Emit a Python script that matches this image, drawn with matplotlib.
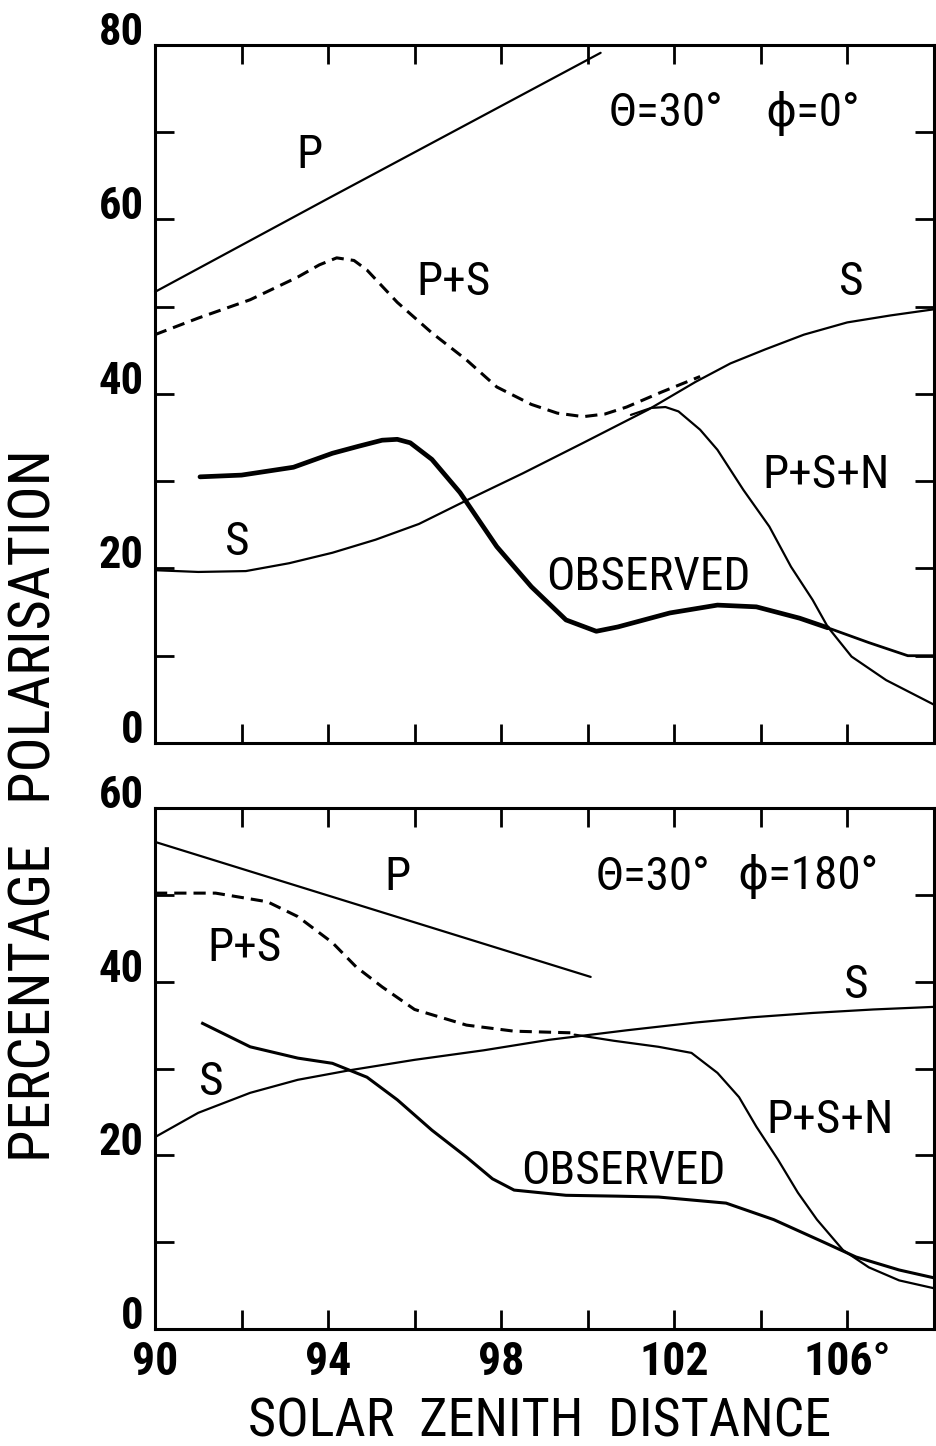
import matplotlib
matplotlib.use('Agg')
import matplotlib.pyplot as plt

# --- Fonts ---
FONT = ['Roboto Condensed', 'Liberation Sans Narrow', 'Roboto', 'DejaVu Sans']
plt.rcParams['font.family'] = FONT

# --- Upper panel: theta=30, phi=0 ---
top_p_x = [90, 94, 100.3]
top_p_y = [51.7, 62.4, 79.1]

top_ps_x = [90, 91.0, 92.2, 93.3, 93.8, 94.2, 94.6, 94.9, 95.6, 96.4, 97.2, 97.9, 98.7, 99.3, 99.9, 100.4, 100.9, 101.7, 102.6]
top_ps_y = [46.8, 48.7, 50.8, 53.4, 54.8, 55.6, 55.3, 54.2, 50.5, 47.0, 43.9, 40.8, 38.8, 37.8, 37.4, 37.7, 38.5, 40.2, 42.0]

top_s_x = [90, 91, 92.1, 93.1, 94.1, 95.1, 96.1, 97.2, 98.5, 99.9, 101.4, 102.5, 103.3, 104.1, 105.0, 106.0, 107.0, 108]
top_s_y = [19.8, 19.6, 19.7, 20.6, 21.8, 23.3, 25.1, 27.8, 30.9, 34.4, 38.2, 41.4, 43.5, 45.1, 46.8, 48.2, 49.0, 49.7]

top_psn_x = [101.0, 101.47, 101.8, 102.1, 102.6, 103.0, 103.6, 104.2, 104.7, 105.2, 105.55, 106.1, 106.9, 108]
top_psn_y = [37.6, 38.4, 38.5, 38.0, 35.9, 33.6, 29.0, 24.8, 20.2, 16.4, 13.3, 9.9, 7.2, 4.4]

top_obs_x = [91.04, 92.0, 93.2, 94.1, 94.7, 95.25, 95.6, 95.9, 96.4, 97.05, 97.9, 98.7, 99.5, 100.2, 100.7, 101.9, 103.0, 103.9, 104.9, 105.55]
top_obs_y = [30.5, 30.7, 31.6, 33.2, 34.0, 34.7, 34.8, 34.4, 32.5, 28.7, 22.5, 17.9, 14.1, 12.8, 13.3, 14.9, 15.8, 15.6, 14.3, 13.2]
top_obs_tail_x = [105.55, 106.5, 107.4, 108]
top_obs_tail_y = [13.2, 11.5, 10.0, 10.0]

# --- Lower panel: theta=30, phi=180 ---
bot_p_x = [90, 100.07]
bot_p_y = [56.1, 40.55]

bot_ps_x = [90, 91.4, 92.6, 93.3, 94.1, 94.65, 95.25, 96.0, 97.2, 98.3, 99.7]
bot_ps_y = [50.2, 50.2, 49.2, 47.5, 44.5, 41.7, 39.4, 36.8, 35.0, 34.3, 34.1]

bot_s_x = [90, 91.0, 92.2, 93.3, 94.5, 96.0, 97.6, 99.1, 100.9, 102.5, 103.8, 105.2, 106.6, 108]
bot_s_y = [22.1, 24.9, 27.2, 28.7, 29.8, 31.0, 32.1, 33.3, 34.4, 35.3, 35.9, 36.4, 36.8, 37.1]

bot_psn_x = [99.7, 100.6, 101.64, 102.4, 103.0, 103.5, 103.9, 104.4, 104.86, 105.3, 105.9, 106.5, 107.2, 108]
bot_psn_y = [33.9, 33.2, 32.5, 31.8, 29.5, 26.7, 23.3, 19.5, 15.7, 12.6, 9.1, 7.1, 5.6, 4.7]

bot_obs_x = [91.1, 92.2, 93.3, 94.1, 94.9, 95.6, 96.4, 97.2, 97.8, 98.3, 99.5, 100.7, 101.64, 103.2, 104.3, 105.5, 106.2, 107.2, 108]
bot_obs_y = [35.2, 32.5, 31.2, 30.6, 29.0, 26.4, 22.9, 19.8, 17.3, 16.0, 15.4, 15.3, 15.2, 14.5, 12.6, 9.9, 8.3, 6.8, 5.9]

X_MAJOR = [90, 94, 98, 102, 106]
X_MINOR = [92, 96, 100, 104]
X_LABELS = ['90', '94', '98', '102', '106°']


def style_axes(ax, ymax, show_x_labels):
    ax.set_xlim(90, 108)
    ax.set_ylim(0, ymax)
    for sp in ax.spines.values():
        sp.set_linewidth(2.2)
    ax.set_xticks(X_MAJOR)
    ax.set_xticks(X_MINOR, minor=True)
    ymaj = list(range(0, ymax + 1, 20))
    ax.set_yticks(ymaj)
    ax.set_yticks(list(range(10, ymax, 20)), minor=True)
    ax.set_yticklabels([str(v) for v in ymaj], fontsize=32, fontweight='bold', va='baseline')
    if show_x_labels:
        ax.set_xticklabels(X_LABELS, fontsize=33, fontweight='bold')
    else:
        ax.set_xticklabels([])
    ax.tick_params(which='both', direction='in', length=14, width=2,
                   top=True, right=True, pad=8)


fig = plt.figure(figsize=(9.36, 14.46), dpi=100)
ax1 = fig.add_axes([0.1656, 0.4862, 0.832, 0.4827])
ax2 = fig.add_axes([0.1656, 0.0809, 0.832, 0.3603])

thin = dict(color='black', linewidth=1.6, solid_capstyle='round')
dash = dict(color='black', linewidth=2.2, linestyle=(0, (4, 2.3)))
thick = dict(color='black', linewidth=3.4, solid_capstyle='round')

# --- Upper panel ---
ax1.plot(top_p_x, top_p_y, clip_on=False, **thin)
ax1.plot(top_ps_x, top_ps_y, **dash)
ax1.plot(top_s_x, top_s_y, **thin)
ax1.plot(top_psn_x, top_psn_y, **thin)
ax1.plot(top_obs_x, top_obs_y, **thick)
ax1.plot(top_obs_tail_x, top_obs_tail_y, color='black', linewidth=2.0)
style_axes(ax1, 80, False)

lbl = dict(ha='center', va='center', fontsize=34)
ax1.text(93.57, 67.4, 'P', **lbl)
ax1.text(96.9, 52.8, 'P+S', **lbl)
ax1.text(106.1, 52.8, 'S', **lbl)
ax1.text(101.8, 72.2, 'Θ=30°', **lbl)
ax1.text(105.2, 72.2, 'ϕ=0°', **lbl)
ax1.text(105.5, 30.7, 'P+S+N', **lbl)
ax1.text(101.4, 19.0, 'OBSERVED', **lbl)
ax1.text(91.9, 23.0, 'S', **lbl)

# --- Lower panel ---
ax2.plot(bot_p_x, bot_p_y, **thin)
ax2.plot(bot_ps_x, bot_ps_y, **dash)
ax2.plot(bot_s_x, bot_s_y, **thin)
ax2.plot(bot_psn_x, bot_psn_y, **thin)
ax2.plot(bot_obs_x, bot_obs_y, color='black', linewidth=2.2)
style_axes(ax2, 60, True)

ax2.text(95.6, 52.0, 'P', **lbl)
ax2.text(101.5, 52.1, 'Θ=30°', **lbl)
ax2.text(105.1, 52.1, 'ϕ=180°', **lbl)
ax2.text(92.07, 43.9, 'P+S', **lbl)
ax2.text(106.2, 39.6, 'S', **lbl)
ax2.text(91.3, 28.5, 'S', **lbl)
ax2.text(105.6, 24.1, 'P+S+N', **lbl)
ax2.text(100.83, 18.2, 'OBSERVED', **lbl)

# --- Axis titles ---
fig.text(540 / 936, 1 - 1422 / 1446, 'SOLAR  ZENITH  DISTANCE',
         ha='center', va='center', fontsize=39)
fig.text(35 / 936, 1 - 806 / 1446, 'PERCENTAGE   POLARISATION',
         ha='center', va='center', rotation=90, fontsize=42)

fig.savefig('out.png', dpi=100)
